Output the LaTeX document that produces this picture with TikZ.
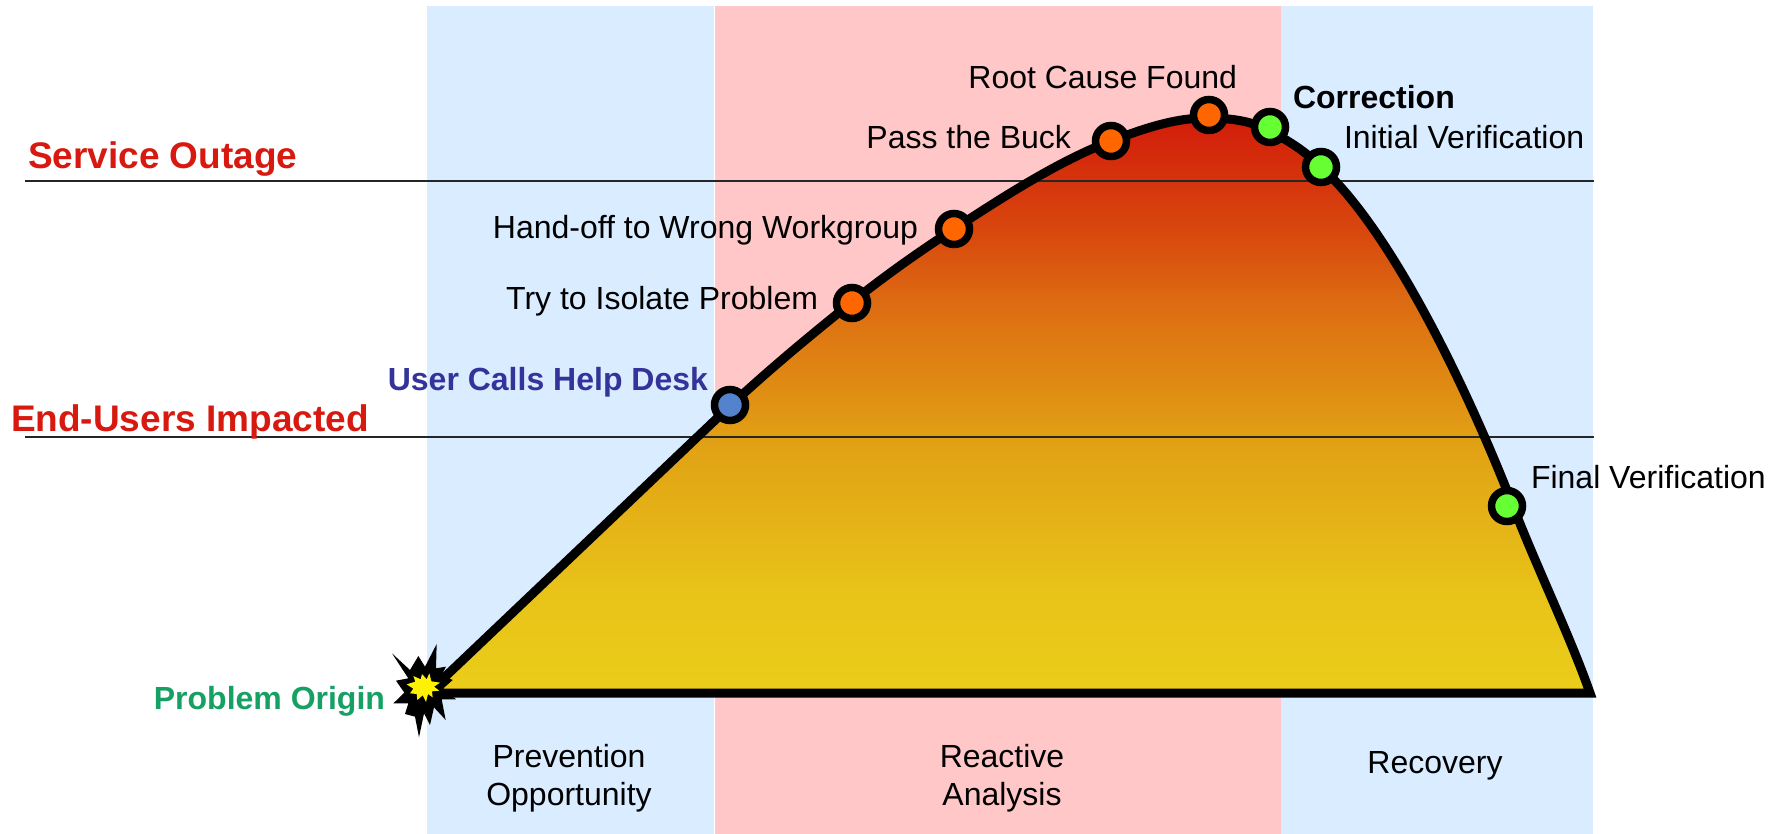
\documentclass[tikz,border=0pt]{standalone}
\usepackage{fontspec}
\setmainfont{Liberation Sans}
\definecolor{bandblue}{RGB}{218,236,255}
\definecolor{bandpink}{RGB}{255,199,199}
\definecolor{mOrange}{RGB}{255,102,0}
\definecolor{mGreen}{RGB}{102,255,51}
\definecolor{mBlue}{RGB}{85,130,205}
\definecolor{tRed}{RGB}{215,25,15}
\definecolor{tBlue}{RGB}{51,51,153}
\definecolor{tGreen}{RGB}{22,160,100}
\definecolor{heatA}{RGB}{234,205,25}
\definecolor{heatB}{RGB}{232,195,25}
\definecolor{heatC}{RGB}{225,160,20}
\definecolor{heatD}{RGB}{221,108,18}
\definecolor{heatE}{RGB}{216,72,14}
\definecolor{heatF}{RGB}{210,28,10}
\pgfdeclareverticalshading{heat}{100bp}{
  color(0bp)=(heatA); color(25bp)=(heatA); color(33.8bp)=(heatB); color(47bp)=(heatC);
  color(58.8bp)=(heatD); color(65bp)=(heatE); color(75bp)=(heatF); color(100bp)=(heatF)}
\tikzset{
  marker/.style={circle,draw=black,line width=7.5pt,minimum size=31pt,inner sep=0pt,outer sep=0pt},
  lab/.style={inner sep=0pt,outer sep=0pt,font=\fontsize{32}{38.5}\selectfont,text=black},
  blab/.style={lab,font=\fontsize{32}{38.5}\selectfont\bfseries},
  biglab/.style={lab,font=\fontsize{37}{42}\selectfont\bfseries,text=tRed},
  band/.style={inner sep=0pt,outer sep=0pt,minimum height=828pt,anchor=north west}
}
\newcommand{\hump}{(p0) -- (c1)
  .. controls (771,368) and (812,334) .. (c2)
  .. controls (886,275) and (920,251) .. (c3)
  .. controls (1006,195) and (1059,161) .. (c4)
  .. controls (1144,128.5) and (1176,117.4) .. (c5)
  .. controls (1229,118.4) and (1250,120) .. (c6)
  .. controls (1287,140) and (1304,150) .. (c7)
  .. controls (1393,232) and (1470,395) .. (c8)
  .. controls (1537,568) and (1570,636) .. (p9) -- cycle}
\begin{document}
\begin{tikzpicture}[x=1pt,y=-1pt]
\useasboundingbox (0,0) rectangle (1774,834);
\node[band,fill=bandblue,minimum width=287pt] (b1) at (427,6) {};
\node[band,fill=bandpink,minimum width=566pt] (b2) at (715,6) {};
\node[band,fill=bandblue,minimum width=312pt] (b3) at (1281,6) {};
\coordinate (s0) at (25,181); \coordinate (s1) at (1594,181);
\coordinate (e0) at (25,437); \coordinate (e1) at (1594,437);
\coordinate (p0) at (428,693);
\coordinate (c1) at (731,405);
\coordinate (c2) at (852,302);
\coordinate (c3) at (954,229);
\coordinate (c4) at (1111,141);
\coordinate (c5) at (1209,118);
\coordinate (c6) at (1270,131);
\coordinate (c7) at (1321,167);
\coordinate (c8) at (1513,506);
\coordinate (p9) at (1590,693);
\path[shading=heat] \hump;
\draw[line width=2pt,black!85] (s0) -- (s1);
\draw[line width=2pt,black!85] (e0) -- (e1);
\draw[line width=9pt,line join=miter] \hump;
\fill[black] ({360+96/3},{620+100/3}) -- ({360+150/3},{620+150/3}) -- ({360+175/3},{620+108/3}) -- ({360+195/3},{620+140/3}) -- ({360+230/3},{620+72/3}) -- ({360+228/3},{620+145/3}) -- ({360+258/3},{620+140/3}) -- ({360+245/3},{620+165/3}) -- ({360+278/3},{620+180/3}) -- ({360+250/3},{620+205/3}) -- ({360+288/3},{620+238/3}) -- ({360+245/3},{620+238/3}) -- ({360+257/3},{620+300/3}) -- ({360+222/3},{620+262/3}) -- ({360+210/3},{620+315/3}) -- ({360+192/3},{620+280/3}) -- ({360+177/3},{620+352/3}) -- ({360+165/3},{620+290/3}) -- ({360+135/3},{620+282/3}) -- ({360+145/3},{620+250/3}) -- ({360+100/3},{620+250/3}) -- ({360+133/3},{620+218/3}) -- ({360+108/3},{620+182/3}) -- ({360+145/3},{620+175/3}) -- cycle;
\fill[yellow] ({360+140/3},{620+193/3}) -- ({360+166/3},{620+185/3}) -- ({360+160/3},{620+168/3}) -- ({360+182/3},{620+178/3}) -- ({360+186/3},{620+162/3}) -- ({360+200/3},{620+178/3}) -- ({360+208/3},{620+160/3}) -- ({360+214/3},{620+184/3}) -- ({360+240/3},{620+188/3}) -- ({360+222/3},{620+200/3}) -- ({360+238/3},{620+212/3}) -- ({360+216/3},{620+214/3}) -- ({360+218/3},{620+232/3}) -- ({360+204/3},{620+222/3}) -- ({360+198/3},{620+246/3}) -- ({360+188/3},{620+226/3}) -- ({360+172/3},{620+240/3}) -- ({360+170/3},{620+222/3}) -- ({360+150/3},{620+220/3}) -- ({360+160/3},{620+206/3}) -- cycle;
\node[marker,fill=mBlue] (m1) at (730,405) {};
\node[marker,fill=mOrange] (m2) at (852,303) {};
\node[marker,fill=mOrange] (m3) at (954,229) {};
\node[marker,fill=mOrange] (m4) at (1111,141) {};
\node[marker,fill=mOrange] (m5) at (1209,115) {};
\node[marker,fill=mGreen] (m6) at (1270,127) {};
\node[marker,fill=mGreen] (m7) at (1321,167) {};
\node[marker,fill=mGreen] (m8) at (1507,506) {};
\node[biglab,anchor=base west] (t1) at (28,169) {Service Outage};
\node[biglab,anchor=base west] (t2) at (11,431) {End-Users Impacted};
\node[blab,anchor=base east,text=tBlue] (t3) at (708,390) {User Calls Help Desk};
\node[blab,anchor=base east,text=tGreen] (t4) at (385,709) {Problem Origin};
\node[lab,anchor=base east] (t5) at (818,309) {Try to Isolate Problem};
\node[lab,anchor=base east] (t6) at (918,239) {Hand-off to Wrong Workgroup};
\node[lab,anchor=base east] (t7) at (1071,149) {Pass the Buck};
\node[lab,anchor=base east] (t8) at (1237,89) {Root Cause Found};
\node[blab,anchor=base west] (t9) at (1293,109) {Correction};
\node[lab,anchor=base west] (t10) at (1344,149) {Initial Verification};
\node[lab,anchor=base west] (t11) at (1531,488) {Final Verification};
\node[lab,align=center] (t12) at (569,778) {Prevention\\Opportunity};
\node[lab,align=center] (t13) at (1002,778) {Reactive\\Analysis};
\node[lab] (t14) at (1435,766) {Recovery};
\end{tikzpicture}
\end{document}
